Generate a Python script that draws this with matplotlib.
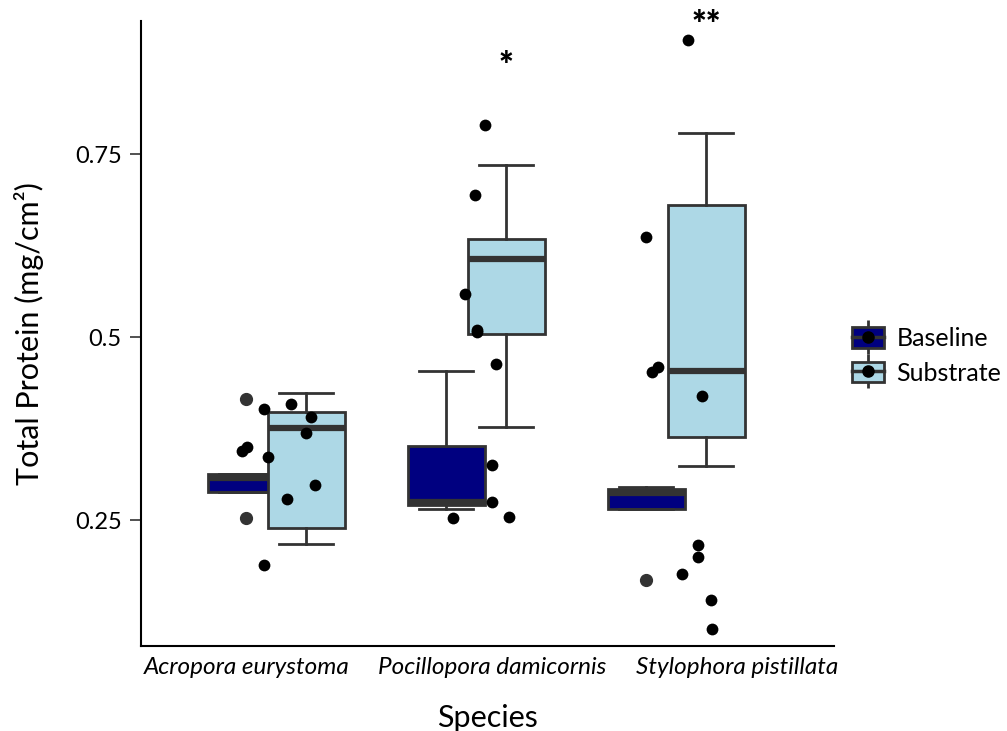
import numpy as np
import matplotlib
matplotlib.use("Agg")
import matplotlib.pyplot as plt
from matplotlib.patches import Patch
from matplotlib.lines import Line2D

plt.rcParams['font.family'] = ['Lato', 'DejaVu Sans']

# species on the x axis
species = ['Acropora eurystoma', 'Pocillopora damicornis', 'Stylophora pistillata']
groups = ['Baseline', 'Substrate']
colors = {'Baseline': '#000080', 'Substrate': '#add8e6'}

# box statistics: (whislo, q1, med, q3, whishi)
baseline_stats = [
    (0.289, 0.289, 0.307, 0.313, 0.313),
    (0.265, 0.270, 0.275, 0.351, 0.454),
    (0.265, 0.265, 0.287, 0.293, 0.295),
]
substrate_stats = [
    (0.217, 0.239, 0.376, 0.398, 0.423),
    (0.377, 0.504, 0.607, 0.634, 0.735),
    (0.324, 0.363, 0.453, 0.680, 0.779),
]
# outliers of the baseline boxes
baseline_outliers = [[0.415, 0.253], [], [0.168]]
substrate_outliers = [[], [], []]

# individual samples (jittered points)
protein = [
    [0.402, 0.408, 0.391, 0.369, 0.344, 0.350, 0.336, 0.298, 0.279, 0.189],
    [0.790, 0.694, 0.559, 0.510, 0.507, 0.463, 0.325, 0.275, 0.253, 0.254],
    [0.906, 0.637, 0.452, 0.459, 0.419, 0.216, 0.199, 0.177, 0.141, 0.101],
]
jitter = [
    [-0.06, 0.075, 0.175, 0.15, -0.17, -0.145, -0.04, 0.195, 0.055, -0.06],
    [0.045, -0.005, -0.055, 0.005, 0.005, 0.10, 0.08, 0.08, -0.115, 0.165],
    [0.06, -0.15, -0.12, -0.09, 0.13, 0.11, 0.11, 0.03, 0.175, 0.18],
]

# significance marks
signif = ['', '*', '**']
signif_y = [0.0, 0.870, 0.925]

dodge = 0.15
edge = '#333333'

fig = plt.figure(figsize=(10.07, 7.31), dpi=100)
ax = fig.add_axes([141 / 1007, 85 / 731, (834 - 141) / 1007, (646 - 21) / 731])

pos = np.arange(1, len(species) + 1)


def make_stats(stats, outl):
    out = []
    for (lo, q1, med, q3, hi), fl in zip(stats, outl):
        out.append(dict(whislo=lo, q1=q1, med=med, q3=q3, whishi=hi, fliers=fl))
    return out


for g, stats, outl, off, z in [('Baseline', baseline_stats, baseline_outliers, -dodge, 2),
                               ('Substrate', substrate_stats, substrate_outliers, dodge, 3)]:
    ax.bxp(make_stats(stats, outl), positions=pos + off, widths=0.385,
           patch_artist=True, showfliers=True, capwidths=0.27,
           boxprops=dict(facecolor=colors[g], edgecolor=edge, linewidth=2.0),
           medianprops=dict(color=edge, linewidth=4.5, solid_capstyle='butt'),
           whiskerprops=dict(color=edge, linewidth=2.0),
           capprops=dict(color=edge, linewidth=2.0),
           flierprops=dict(marker='o', markerfacecolor=edge, markeredgecolor=edge,
                           markersize=8.5),
           zorder=z)

for i, (vals, jit) in enumerate(zip(protein, jitter)):
    ax.scatter(pos[i] + np.array(jit), vals, s=72, color='black', zorder=5, linewidths=0)

for i, s in enumerate(signif):
    if s:
        ax.text(pos[i] + dodge, signif_y[i], s, ha='center', va='center',
                fontsize=25, fontweight='heavy', clip_on=False)

ax.set_xlim(0.325, 3.79)
ax.set_ylim(0.078, 0.9317)
ax.set_yticks([0.25, 0.5, 0.75])
ax.set_yticklabels(['0.25', '0.5', '0.75'])
ax.set_xticks(pos + np.array([-0.145, 0.08, 0.305]))
ax.set_xticklabels(species, fontstyle='italic')
ax.tick_params(axis='x', length=0, labelsize=17.5, pad=8)
ax.tick_params(axis='y', length=8, width=1.2, color=edge, labelsize=17, pad=6)

for sp in ['top', 'right']:
    ax.spines[sp].set_visible(False)
for sp in ['left', 'bottom']:
    ax.spines[sp].set_linewidth(1.5)

ax.set_ylabel('Total Protein (mg/cm²)', fontsize=22, labelpad=22)
ax.set_xlabel('Species', fontsize=22, labelpad=19)

handles = []
for g in groups:
    whisk = Line2D([], [], linestyle='none', marker='|', markersize=25,
                   markeredgewidth=2, color=edge)
    box = Patch(facecolor=colors[g], edgecolor=edge, linewidth=2)
    med = Line2D([], [], color=edge, linewidth=2.5, marker='o', markersize=8,
                 markerfacecolor='black', markeredgecolor='black')
    handles.append((whisk, box, med))

fig.legend(handles, groups, loc='center left', bbox_to_anchor=(829 / 1007, 1 - 356 / 731),
           frameon=False, fontsize=18, handlelength=1.3, handleheight=0.9,
           handletextpad=0.5, labelspacing=0.45, numpoints=1)

fig.savefig('out.png', dpi=100)
